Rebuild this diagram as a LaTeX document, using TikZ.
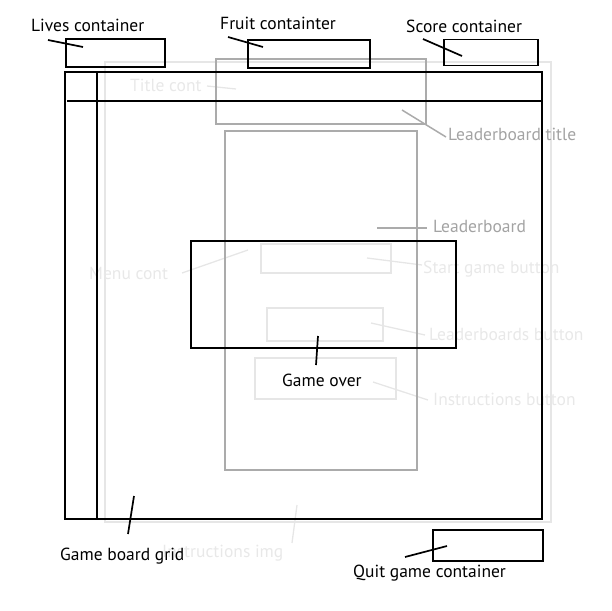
\documentclass[tikz,border=0pt]{standalone}
\usepackage{fontspec}
\setmainfont{PT Sans}
\definecolor{midgray}{HTML}{ABABAB}
\definecolor{midtext}{HTML}{A3A3A3}
\definecolor{lightgray}{HTML}{E6E6E6}
\definecolor{lighttext}{HTML}{E8E8E8}
\begin{document}
\begin{tikzpicture}[x=1pt,y=-1pt,
  box/.style={inner sep=0pt, outer sep=0pt, anchor=north west},
  blk/.style={box, draw=black, line width=1.7pt},
  gry/.style={box, draw=midgray, line width=1.5pt},
  lgt/.style={box, draw=lightgray, line width=1.3pt},
  lbl/.style={font=\fontsize{17.5}{20}\selectfont, inner sep=0pt, anchor=base west},
  blkline/.style={draw=black, line width=1.7pt},
  gryline/.style={draw=midgray, line width=1.5pt},
  lgtline/.style={draw=lightgray, line width=1.3pt}]
\useasboundingbox (0,0) rectangle (612,610);
% light layer
\node[lgt, minimum width=446, minimum height=460] (outer) at (105,62) {};
\node[lgt, minimum width=130, minimum height=29] (startbtn) at (261,244) {};
\node[lgt, minimum width=116, minimum height=33] (ldbbtn) at (267,308) {};
\node[lgt, minimum width=141, minimum height=41] (instrbtn) at (255,358) {};
\node[lbl, text=lighttext] (titlecont) at (130,91) {Title cont};
\node[lbl, text=lighttext] (menucont) at (89,279) {Menu cont};
\node[lbl, text=lighttext] (startlbl) at (423,273) {Start game button};
\node[lbl, text=lighttext] (ldbbtnlbl) at (429,340) {Leaderboards button};
\node[lbl, text=lighttext] (instrlbl) at (433,405) {Instructions button};
\node[lbl, text=lighttext] (instrimg) at (162,557) {Instructions img};
\coordinate (tc1) at (207,86); \coordinate (tc2) at (236,89);
\coordinate (mc1) at (182,273); \coordinate (mc2) at (248,250);
\coordinate (sb1) at (367,258); \coordinate (sb2) at (422,265);
\coordinate (lb1) at (371,323); \coordinate (lb2) at (425,335);
\coordinate (ib1) at (373,382); \coordinate (ib2) at (428,400);
\coordinate (ii1) at (297,505); \coordinate (ii2) at (292,543);
\draw[lgtline] (tc1) -- (tc2);
\draw[lgtline] (mc1) -- (mc2);
\draw[lgtline] (sb1) -- (sb2);
\draw[lgtline] (lb1) -- (lb2);
\draw[lgtline] (ib1) -- (ib2);
\draw[lgtline] (ii1) -- (ii2);
% gray layer
\node[gry, minimum width=210, minimum height=65] (ldbtitle) at (216,59) {};
\node[gry, minimum width=192, minimum height=339] (ldb) at (225,131) {};
\node[lbl, text=midtext] (ldbtitlelbl) at (448,140) {Leaderboard title};
\node[lbl, text=midtext] (ldblbl) at (433,232) {Leaderboard};
\coordinate (lt1) at (402,110); \coordinate (lt2) at (446,137);
\coordinate (ld1) at (377,228); \coordinate (ld2) at (427,228);
\draw[gryline] (lt1) -- (lt2);
\draw[gryline] (ld1) -- (ld2);
% black layer
\node[blk, minimum width=99, minimum height=28] (lives) at (66,39) {};
\node[blk, minimum width=122, minimum height=28] (fruit) at (248,40) {};
\node[blk, minimum width=94, minimum height=26] (score) at (444,39.5) {};
\node[blk, minimum width=477, minimum height=447] (board) at (65,72) {};
\node[blk, minimum width=265, minimum height=107] (gameover) at (191,241) {};
\node[blk, minimum width=110, minimum height=31] (quit) at (433,530) {};
\coordinate (gv1) at (97,72); \coordinate (gv2) at (97,520);
\coordinate (gh1) at (67,101); \coordinate (gh2) at (542,101);
\draw[blkline] (gv1) -- (gv2);
\draw[blkline] (gh1) -- (gh2);
\node[lbl] (liveslbl) at (31,32) {Lives container};
\node[lbl] (fruitlbl) at (220,30) {Fruit containter};
\node[lbl] (scorelbl) at (406,33) {Score container};
\node[lbl] (gameoverlbl) at (282,386) {Game over};
\node[lbl] (gridlbl) at (60,560) {Game board grid};
\node[lbl] (quitlbl) at (353,577) {Quit game container};
\coordinate (l1) at (48,40); \coordinate (l2) at (83,47);
\coordinate (f1) at (228,37); \coordinate (f2) at (263,47);
\coordinate (s1) at (423,39); \coordinate (s2) at (462,56);
\coordinate (g1) at (318,336); \coordinate (g2) at (316,365);
\coordinate (r1) at (134,496); \coordinate (r2) at (128,534);
\coordinate (q1) at (405,557); \coordinate (q2) at (447,546);
\draw[blkline] (l1) -- (l2);
\draw[blkline] (f1) -- (f2);
\draw[blkline] (s1) -- (s2);
\draw[blkline] (g1) -- (g2);
\draw[blkline] (r1) -- (r2);
\draw[blkline] (q1) -- (q2);
\end{tikzpicture}
\end{document}
